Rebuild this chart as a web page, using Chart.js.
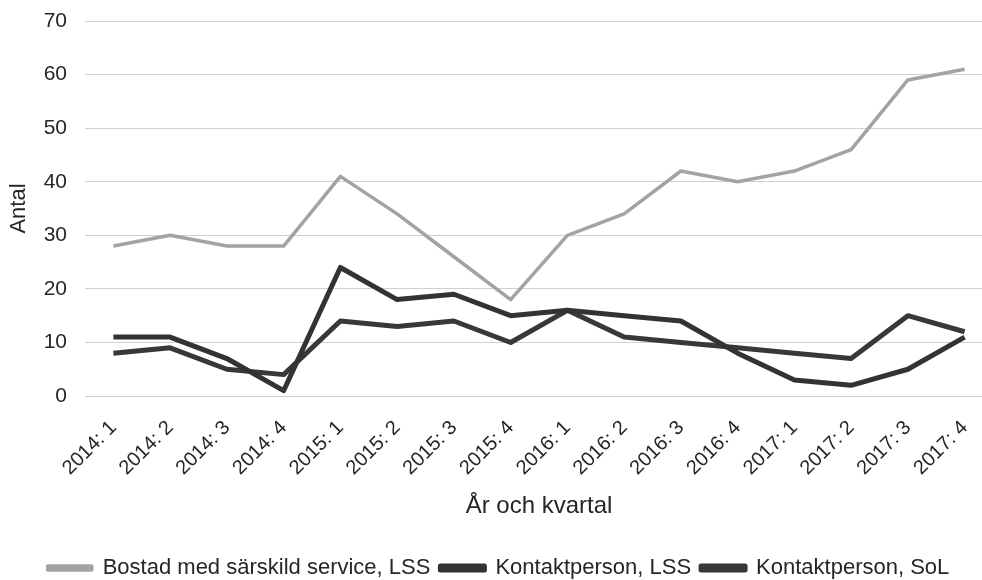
<!DOCTYPE html>
<html>
<head>
<meta charset="utf-8">
<script src="https://cdn.jsdelivr.net/npm/chart.js@4"></script>
<style>
  html, body { margin: 0; padding: 0; background: #fff; overflow: hidden; }
  #wrap { width: 1016px; height: 580px; }
</style>
</head>
<body>
<div id="wrap"><canvas id="graf"></canvas></div>
<script>
const kvartal = ["2014: 1", "2014: 2", "2014: 3", "2014: 4", "2015: 1", "2015: 2", "2015: 3", "2015: 4",
    "2016: 1", "2016: 2", "2016: 3", "2016: 4", "2017: 1", "2017: 2", "2017: 3", "2017: 4"];
const bostadLSS = [28, 30, 28, 28, 41, 34, 26, 18, 30, 34, 42, 40, 42, 46, 59, 61];
const kontaktLSS = [11, 11, 7, 1, 24, 18, 19, 15, 16, 15, 14, 8, 3, 2, 5, 11];
const kontaktSoL = [8, 9, 5, 4, 14, 13, 14, 10, 16, 11, 10, 9, 8, 7, 15, 12];
const yTicks = [0, 10, 20, 30, 40, 50, 60, 70];

const font = "'Liberation Sans', Arial, sans-serif";
const textColor = "#262626";

function serie(label, data, color, width) {
    return {
        label: label,
        data: data,
        borderColor: color,
        backgroundColor: color,
        borderWidth: width,
        pointRadius: 0,
        tension: 0,
        borderJoinStyle: "round",
    };
}

const ctx = document.getElementById("graf");
new Chart(ctx, {
    type: "line",
    data: {
        labels: kvartal,
        datasets: [
            serie("Bostad med särskild service, LSS", bostadLSS, "#a3a3a3", 3.5),
            serie("Kontaktperson, LSS", kontaktLSS, "#333333", 5),
            serie("Kontaktperson, SoL", kontaktSoL, "#383838", 5),
        ],
    },
    options: {
        responsive: true,
        maintainAspectRatio: false,
        animation: false,
        layout: { padding: { top: 21, left: 4, right: 23, bottom: -9 } },
        plugins: {
            tooltip: { enabled: false },
            legend: {
                position: "bottom",
                labels: {
                    font: { family: font, size: 22 },
                    color: textColor,
                    boxWidth: 44,
                    boxHeight: 4,
                    padding: 10,
                },
            },
        },
        scales: {
            x: {
                offset: true,
                grid: { display: false },
                border: { display: false },
                afterFit: (scale) => {
                    scale.paddingLeft = 0;
                    scale.paddingRight = 0;
                },
                ticks: {
                    font: { family: font, size: 20 },
                    color: textColor,
                    minRotation: 45,
                    maxRotation: 45,
                    autoSkip: false,
                    padding: 12,
                },
                title: {
                    display: true,
                    text: "År och kvartal",
                    font: { family: font, size: 24 },
                    color: textColor,
                    padding: { top: 0, bottom: 26 },
                },
            },
            y: {
                min: 0,
                max: 70,
                afterBuildTicks: (scale) => {
                    scale.ticks = yTicks.map((v) => ({ value: v }));
                },
                afterFit: (scale) => {
                    scale.paddingTop = 0;
                    scale.paddingBottom = 0;
                    scale.width = 81;
                },
                grid: { color: "#d0d0d0", lineWidth: 1, drawTicks: false },
                border: { display: false },
                ticks: {
                    font: { family: font, size: 21 },
                    color: textColor,
                    padding: 18,
                },
                title: {
                    display: true,
                    text: "Antal",
                    font: { family: font, size: 22 },
                    color: textColor,
                    padding: { top: 2, bottom: 12 },
                },
            },
        },
    },
});
</script>
</body>
</html>
